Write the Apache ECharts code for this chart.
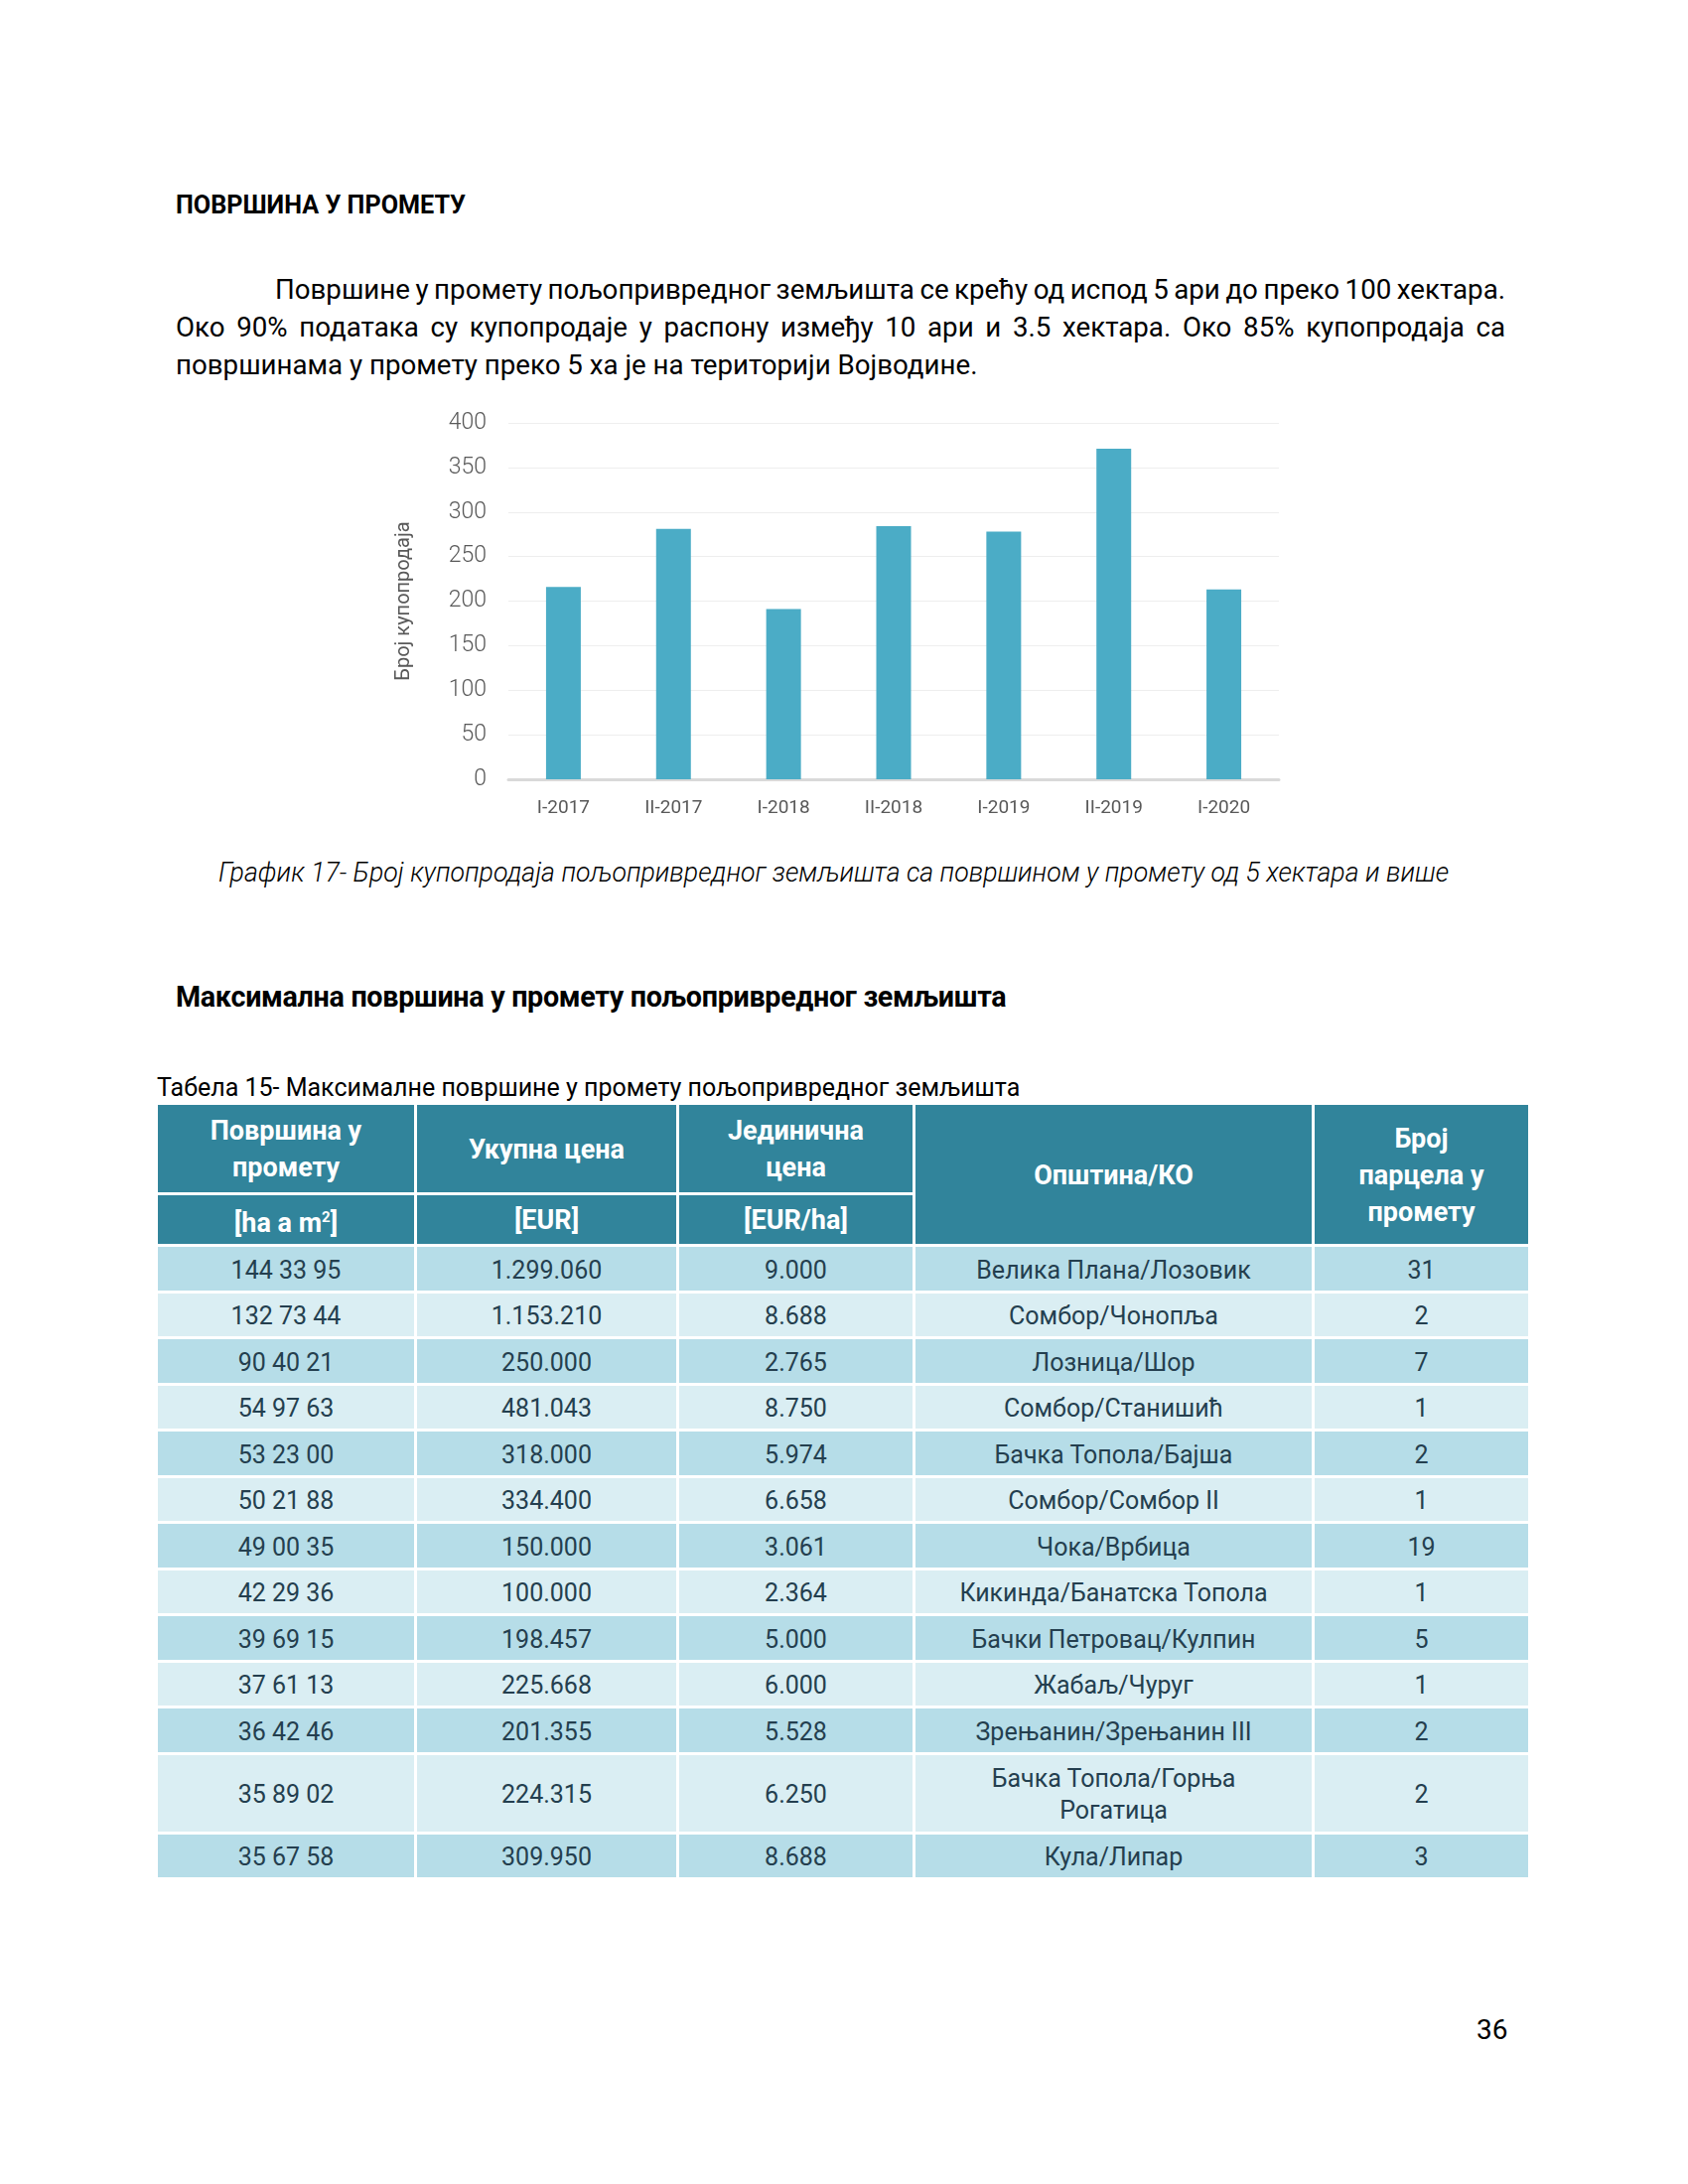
<!DOCTYPE html>
<html>
<head>
<meta charset="utf-8">
<script src="https://cdn.jsdelivr.net/npm/echarts@6/dist/echarts.min.js"></script>
<style>
  html, body { margin:0; padding:0; background:#fff; }
  body { width:1700px; height:2200px; position:relative; font-family: Roboto, "Noto Sans", sans-serif; color:#000; }
  .abs { position:absolute; }
  #h1 { left:177px; top:192px; font-weight:700; font-size:25.2px; letter-spacing:0; }
  #para { left:177px; top:273px; width:1339px; font-size:27.7px; line-height:38px; }
  #para .ln { text-align:justify; text-align-last:justify; white-space:nowrap; }
  #para .l1 { padding-left:100px; word-spacing:-2px; }
  #para .last { text-align:left; text-align-last:left; }
  #chart { left:380px; top:402px; width:940px; height:440px; }
  #cap { left:170px; top:863px; width:1339px; text-align:center; font-style:italic; font-weight:300; font-size:26.7px; }
  #h2 { left:177px; top:987px; font-weight:700; font-size:28.7px; letter-spacing:-0.3px; }
  #tcap { left:158px; top:1081px; font-size:25px; }
  #tbl { left:156px; top:1110px; border-collapse:collapse; table-layout:fixed; }
  #tbl td { border:3px solid #fff; text-align:center; padding:0; }
  #tbl .hd { background:#31849b; color:#fff; font-weight:700; font-size:27px; line-height:37px; padding-top:2px; }
  #tbl .dk td { background:#b6dde8; }
  #tbl .lt td { background:#daeef3; }
  #tbl .dat td { color:#243f4f; font-size:25px; line-height:32px; padding-top:4px; }
  #pg { left:1487px; top:2028px; font-size:28px; }
</style>
</head>
<body>
<div id="h1" class="abs">ПОВРШИНА У ПРОМЕТУ</div>
<div id="para" class="abs">
  <div class="ln l1">Површине у промету пољопривредног земљишта се крећу од испод 5 ари до преко 100 хектара.</div>
  <div class="ln">Око 90% података су купопродаје у распону између 10 ари и 3.5 хектара. Око 85% купопродаја са</div>
  <div class="ln last">површинама у промету преко 5 ха је на територији Војводине.</div>
</div>
<div id="chart" class="abs"></div>
<div id="cap" class="abs">График 17- Број купопродаја пољопривредног земљишта са површином у промету од 5 хектара и више</div>
<div id="h2" class="abs">Максимална површина у промету пољопривредног земљишта</div>
<div id="tcap" class="abs">Табела 15- Максималне површине у промету пољопривредног земљишта</div>
<table id="tbl" class="abs"></table>
<div id="pg" class="abs">36</div>
<script>
// ---- Chart data ----
const categories = ['I-2017', 'II-2017', 'I-2018', 'II-2018', 'I-2019', 'II-2019', 'I-2020'];
const salesCount = [216, 281, 191, 284, 278, 371, 213];
const yAxisTitle = 'Број купопродаја';
const yMin = 0, yMax = 400, yStep = 50;

// ---- Table data ----
const headerTop = ['Површина у<br>промету', 'Укупна цена', 'Јединична<br>цена', 'Општина/КО', 'Број<br>парцела у<br>промету'];
const headerUnits = ['[ha a m<sup style="font-size:15px">2</sup>]', '[EUR]', '[EUR/ha]'];
const areaCol = ['144 33 95', '132 73 44', '90 40 21', '54 97 63', '53 23 00', '50 21 88', '49 00 35', '42 29 36', '39 69 15', '37 61 13', '36 42 46', '35 89 02', '35 67 58'];
const totalPriceCol = ['1.299.060', '1.153.210', '250.000', '481.043', '318.000', '334.400', '150.000', '100.000', '198.457', '225.668', '201.355', '224.315', '309.950'];
const unitPriceCol = ['9.000', '8.688', '2.765', '8.750', '5.974', '6.658', '3.061', '2.364', '5.000', '6.000', '5.528', '6.250', '8.688'];
const municipalityCol = ['Велика Плана/Лозовик', 'Сомбор/Чонопља', 'Лозница/Шор', 'Сомбор/Станишић', 'Бачка Топола/Бајша', 'Сомбор/Сомбор II', 'Чока/Врбица', 'Кикинда/Банатска Топола', 'Бачки Петровац/Кулпин', 'Жабаљ/Чуруг', 'Зрењанин/Зрењанин III', 'Бачка Топола/Горња<br>Рогатица', 'Кула/Липар'];
const parcelsCol = ['31', '2', '7', '1', '2', '1', '19', '1', '5', '1', '2', '2', '3'];

// ---- Build table ----
const colW = [261, 264, 238, 402, 218];
let html = '<colgroup>' + colW.map(w => '<col style="width:' + w + 'px">').join('') + '</colgroup>';
html += '<tr class="hd" style="height:91px">';
html += '<td class="hd">' + headerTop[0] + '</td><td class="hd">' + headerTop[1] + '</td><td class="hd">' + headerTop[2] + '</td>';
html += '<td class="hd" rowspan="2">' + headerTop[3] + '</td><td class="hd" rowspan="2">' + headerTop[4] + '</td></tr>';
html += '<tr style="height:52px">' + headerUnits.map(u => '<td class="hd">' + u + '</td>').join('') + '</tr>';
for (let i = 0; i < areaCol.length; i++) {
  const h = municipalityCol[i].indexOf('<br>') >= 0 ? 80 : 46.5;
  html += '<tr class="dat ' + (i % 2 === 0 ? 'dk' : 'lt') + '" style="height:' + h + 'px">' +
    '<td>' + areaCol[i] + '</td><td>' + totalPriceCol[i] + '</td><td>' + unitPriceCol[i] + '</td><td>' + municipalityCol[i] + '</td><td>' + parcelsCol[i] + '</td></tr>';
}
document.getElementById('tbl').innerHTML = html;

// ---- Chart ----
const chart = echarts.init(document.getElementById('chart'), null, { renderer: 'canvas' });
chart.setOption({
  animation: false,
  grid: { left: 132, right: 32, top: 24, bottom: 57 },
  xAxis: {
    type: 'category',
    data: categories,
    axisLine: { lineStyle: { color: '#d9d9d9', width: 3 } },
    axisTick: { show: false },
    axisLabel: { color: '#595959', fontSize: 19, fontFamily: 'Roboto', margin: 20 }
  },
  yAxis: {
    type: 'value',
    min: yMin, max: yMax, interval: yStep,
    name: yAxisTitle,
    nameLocation: 'middle',
    nameGap: 95,
    nameTextStyle: { color: '#595959', fontSize: 20, fontFamily: 'Roboto' },
    axisLine: { show: false },
    axisTick: { show: false },
    splitLine: { lineStyle: { color: '#eeeeee', width: 1 } },
    axisLabel: { color: '#595959', fontSize: 23, fontFamily: 'Roboto', fontWeight: 300, margin: 22 }
  },
  series: [{
    type: 'bar',
    data: salesCount,
    barWidth: 35,
    itemStyle: { color: '#4bacc6' }
  }]
});
</script>
</body>
</html>
